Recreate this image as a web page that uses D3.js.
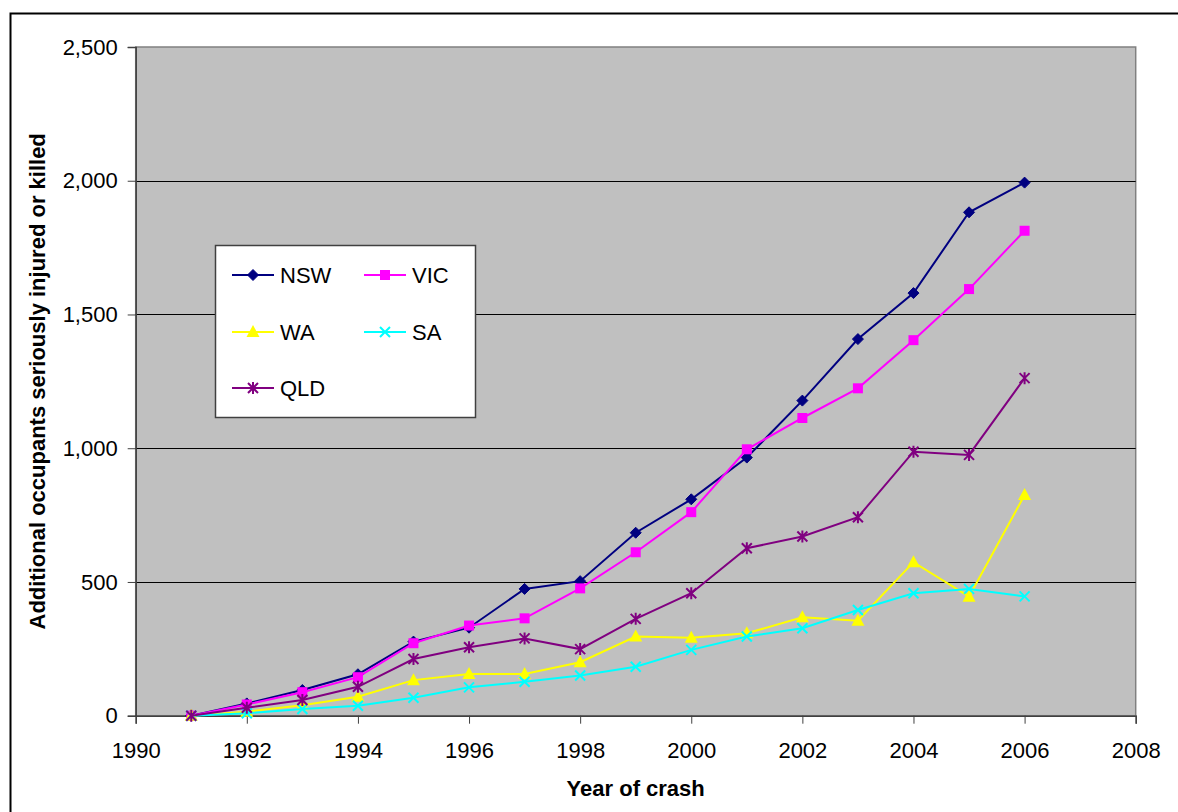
<!DOCTYPE html>
<html><head><meta charset="utf-8">
<script src="https://cdn.jsdelivr.net/npm/d3@7"></script>
<style>
html,body{margin:0;padding:0;background:#fff;}
svg{display:block;font-family:Arial,"Liberation Sans",sans-serif;}
</style></head>
<body>
<svg id="chart" width="1178" height="812"></svg>
<script>
const years = [1991,1992,1993,1994,1995,1996,1997,1998,1999,2000,2001,2002,2003,2004,2005,2006];
const seriesNames = ["NSW","VIC","WA","SA","QLD"];
const nswValues = [0,46,96,155,277,329,474,503,684,809,965,1178,1408,1580,1882,1993];
const vicValues = [0,42,88,144,271,337,364,476,611,761,996,1113,1224,1404,1595,1813];
const waValues  = [0,15,39,71,133,156,156,200,296,291,308,368,355,574,445,825];
const saValues  = [0,9,25,37,67,106,127,150,183,246,296,327,395,458,474,446];
const qldValues = [0,30,59,108,212,256,289,249,362,458,626,670,742,987,975,1262];
const xTicks = [1990,1992,1994,1996,1998,2000,2002,2004,2006,2008];
const yTicks = [0,500,1000,1500,2000,2500];
const xTitle = "Year of crash";
const yTitle = "Additional occupants seriously injured or killed";

const colors = {NSW:"#000080", VIC:"#FF00FF", WA:"#FFFF00", SA:"#00FFFF", QLD:"#800080"};
const markers = {NSW:"diamond", VIC:"square", WA:"triangle", SA:"x", QLD:"star"};
const valuesBy = {NSW:nswValues, VIC:vicValues, WA:waValues, SA:saValues, QLD:qldValues};

const svg = d3.select("#chart");
const L = 135.7, T = 47, R = 1135.7, B = 715.7;
const x = d3.scaleLinear().domain([1990,2008]).range([L,R]);
const y = d3.scaleLinear().domain([0,2500]).range([B,T]);
const FS = 22;

// outer chart border
svg.append("rect").attr("x",10.5).attr("y",13.5).attr("width",1200).attr("height",900)
  .attr("fill","none").attr("stroke","#000").attr("stroke-width",2);

// plot area
svg.append("rect").attr("x",L).attr("y",T).attr("width",R-L).attr("height",B-T)
  .attr("fill","#C0C0C0").attr("stroke","#808080").attr("stroke-width",1.5);

// gridlines
svg.append("g").selectAll("line").data(yTicks.filter(d=>d>0 && d<2500)).join("line")
  .attr("x1",L).attr("x2",R).attr("y1",d=>Math.round(y(d))+0.5).attr("y2",d=>Math.round(y(d))+0.5)
  .attr("stroke","#000").attr("stroke-width",1);

// axes
const yAxis = d3.axisLeft(y).tickValues(yTicks).tickSize(8).tickPadding(10)
  .tickFormat(d3.format(","));
const gy = svg.append("g").attr("transform",`translate(${L},0)`).call(yAxis);
gy.select(".domain").attr("stroke","#404040").attr("stroke-width",1.5);
gy.selectAll(".tick line").attr("stroke","#404040");
gy.selectAll("text").attr("font-size",FS).attr("fill","#000").attr("font-family","Arial,'Liberation Sans',sans-serif");

const xAxis = d3.axisBottom(x).tickValues(xTicks).tickSize(8).tickPadding(19)
  .tickFormat(d3.format("d"));
const gx = svg.append("g").attr("transform",`translate(0,${B})`).call(xAxis);
gx.select(".domain").attr("stroke","#404040").attr("stroke-width",1.5);
gx.selectAll(".tick line").attr("stroke","#404040");
gx.selectAll("text").attr("font-size",FS).attr("fill","#000").attr("font-family","Arial,'Liberation Sans',sans-serif");

// titles
svg.append("text").attr("x",(L+R)/2).attr("y",796).attr("text-anchor","middle")
  .attr("font-size",FS).attr("font-weight","bold").text(xTitle);
svg.append("text").attr("transform",`translate(45,${(T+B)/2}) rotate(-90)`).attr("text-anchor","middle")
  .attr("font-size",FS).attr("font-weight","bold").text(yTitle);

// marker drawing
function drawMarker(g, type, color){
  const s = 5.5;
  if(type==="diamond"){
    g.append("path").attr("d",`M0,${-s}L${s},0L0,${s}L${-s},0Z`).attr("fill",color).attr("stroke",color).attr("stroke-width",1);
  } else if(type==="square"){
    g.append("rect").attr("x",-5).attr("y",-5).attr("width",10).attr("height",10).attr("fill",color);
  } else if(type==="triangle"){
    g.append("path").attr("d",`M0,-7L6.5,5L-6.5,5Z`).attr("fill",color);
  } else if(type==="x"){
    g.append("path").attr("d",`M-5,-5L5,5M-5,5L5,-5`).attr("stroke",color).attr("stroke-width",2).attr("fill","none");
  } else if(type==="star"){
    g.append("path").attr("d",`M-5,-5L5,5M-5,5L5,-5M0,-6L0,6`).attr("stroke",color).attr("stroke-width",2).attr("fill","none");
  }
}

const line = d3.line().x(d=>x(d[0])).y(d=>y(d[1]));
seriesNames.forEach(name=>{
  const pts = years.map((yr,i)=>[yr, valuesBy[name][i]]);
  const g = svg.append("g");
  g.append("path").datum(pts).attr("d",line).attr("fill","none")
    .attr("stroke",colors[name]).attr("stroke-width",2);
  pts.forEach(p=>{
    const mg = g.append("g").attr("transform",`translate(${x(p[0])},${y(p[1])})`);
    drawMarker(mg, markers[name], colors[name]);
  });
});

// legend
const lg = svg.append("g");
lg.append("rect").attr("x",215.5).attr("y",245.5).attr("width",260).attr("height",172)
  .attr("fill","#fff").attr("stroke","#404040").attr("stroke-width",1.5);
const legendPos = [[232,275],[364,275],[232,332],[364,332],[232,388]];
seriesNames.forEach((name,i)=>{
  const [lx,ly] = legendPos[i];
  const e = lg.append("g").attr("transform",`translate(${lx},${ly})`);
  e.append("line").attr("x1",0).attr("x2",42).attr("y1",0).attr("y2",0).attr("stroke",colors[name]).attr("stroke-width",2);
  const mg = e.append("g").attr("transform","translate(21,0)");
  drawMarker(mg, markers[name], colors[name]);
  e.append("text").attr("x",48).attr("y",8).attr("font-size",FS).text(name);
});
</script>
</body></html>
